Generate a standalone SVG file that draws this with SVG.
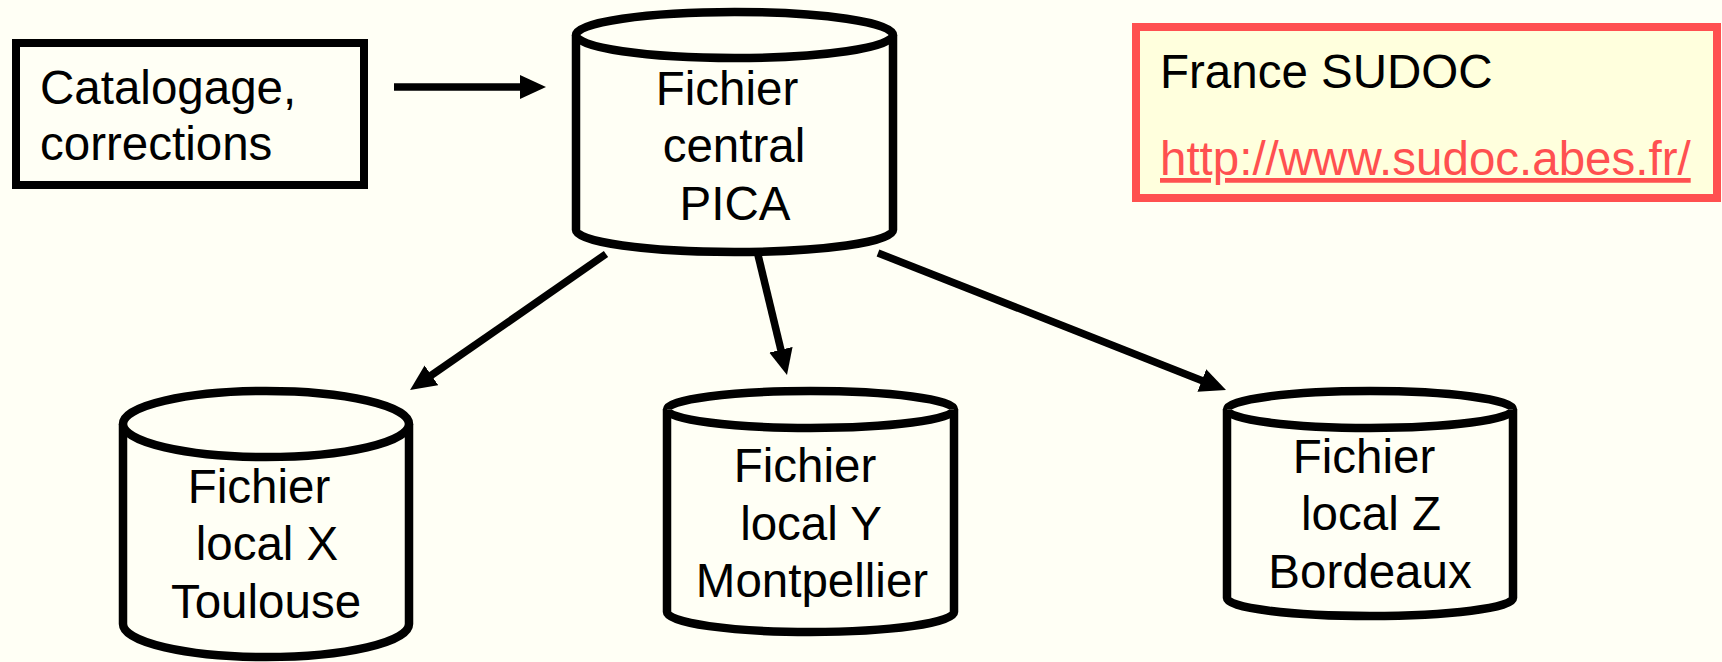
<svg xmlns="http://www.w3.org/2000/svg" width="1722" height="662" viewBox="0 0 1722 662">
<defs>
<style>
.bg{fill:#FFFFF5}
.box{fill:none;stroke:#000;stroke-width:8}
.cyl{fill:#FFFFF5;stroke:#000;stroke-width:8.5;stroke-linejoin:round}
.t{font-family:"Liberation Sans",Arial,sans-serif;font-size:47.5px;fill:#000}
.c{text-anchor:middle}
.info{fill:#FFFFDD;stroke:#FF5050;stroke-width:8}
.link{fill:#FF5050;text-decoration:underline}
.conn{stroke:#000;stroke-width:7.5;fill:none}
</style>
<marker id="ah" markerUnits="userSpaceOnUse" markerWidth="28" markerHeight="26" refX="6" refY="12" orient="auto">
<path d="M0,0 L26,12 L0,24 Z" fill="#000"/>
</marker>
</defs>
<rect class="bg" x="0" y="0" width="1722" height="662"/>
<g id="connectors">
<line class="conn" x1="394" y1="87" x2="526" y2="87" marker-end="url(#ah)"/>
<line class="conn" x1="606" y1="254" x2="426.5" y2="378.7" marker-end="url(#ah)"/>
<line class="conn" x1="758" y1="255" x2="782.3" y2="355.6" marker-end="url(#ah)"/>
<line class="conn" x1="878" y1="253" x2="1207.4" y2="382.7" marker-end="url(#ah)"/>
</g>
<g id="catalogage">
<rect class="box" x="16" y="43" width="348" height="142"/>
<text class="t" x="40" y="104">Catalogage,</text>
<text class="t" x="40" y="160">corrections</text>
</g>
<g id="central">
<path class="cyl" d="M576,35 A158.5,23 0 0 1 893,35 L893,230 A158.5,22 0 0 1 576,230 Z"/>
<path class="cyl" fill="none" d="M576,35 A158.5,23 0 0 0 893,35"/>
<text class="t c" x="727" y="105">Fichier</text>
<text class="t c" x="734" y="162">central</text>
<text class="t c" x="735" y="220">PICA</text>
</g>
<g id="info">
<rect class="info" x="1136" y="27" width="581" height="171"/>
<text class="t" x="1160" y="88">France SUDOC</text>
<text class="t link" x="1160" y="175">http://www.sudoc.abes.fr/</text>
</g>
<g id="localX">
<path class="cyl" d="M123,424 A143,33 0 0 1 409,424 L409,624 A143,33 0 0 1 123,624 Z"/>
<path class="cyl" fill="none" d="M123,424 A143,33 0 0 0 409,424"/>
<text class="t c" x="259" y="503">Fichier</text>
<text class="t c" x="267" y="560">local X</text>
<text class="t c" x="266" y="618">Toulouse</text>
</g>
<g id="localY">
<path class="cyl" d="M667,409.5 A143.5,18.5 0 0 1 954,409.5 L954,612 A143.5,20 0 0 1 667,612 Z"/>
<path class="cyl" fill="none" d="M667,409.5 A143.5,18.5 0 0 0 954,409.5"/>
<text class="t c" x="805" y="482">Fichier</text>
<text class="t c" x="811" y="540">local Y</text>
<text class="t c" x="812" y="597">Montpellier</text>
</g>
<g id="localZ">
<path class="cyl" d="M1227,409.5 A143,18.5 0 0 1 1513,409.5 L1513,598 A143,18 0 0 1 1227,598 Z"/>
<path class="cyl" fill="none" d="M1227,409.5 A143,18.5 0 0 0 1513,409.5"/>
<text class="t c" x="1364" y="473">Fichier</text>
<text class="t c" x="1371" y="530">local Z</text>
<text class="t c" x="1370" y="588">Bordeaux</text>
</g>
</svg>
